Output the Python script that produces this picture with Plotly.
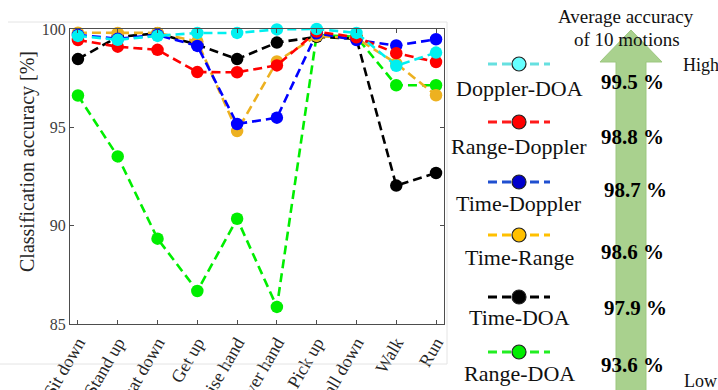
import plotly.graph_objects as go

W, H = 718, 390

motions = ["Sit down", "Stand up", "Squat down", "Get up", "Raise hand",
           "Lower hand", "Pick up", "Fall down", "Walk", "Run"]

doppler_doa = [99.65, 99.45, 99.65, 99.8, 99.8, 99.98, 100.0, 99.8, 98.13, 98.8]
range_doppler = [99.44, 99.1, 98.94, 97.81, 97.8, 98.15, 99.87, 99.58, 98.77, 98.32]
time_doppler = [99.7, 99.5, 99.7, 99.14, 95.17, 95.49, 99.78, 99.44, 99.16, 99.48]
time_range = [99.81, 99.8, 99.8, 99.36, 94.81, 98.35, 99.65, 99.53, 98.25, 96.63]
time_doa = [98.47, 99.6, 99.78, 99.2, 98.47, 99.31, 99.6, 99.5, 92.04, 92.68]
range_doa = [96.62, 93.52, 89.34, 86.68, 90.35, 85.87, 99.7, 99.6, 97.14, 97.14]

series_names = ["Doppler-DOA", "Range-Doppler", "Time-Doppler", "Time-Range", "Time-DOA", "Range-DOA"]
series_values = [doppler_doa, range_doppler, time_doppler, time_range, time_doa, range_doa]
series_colors = ["#00f0f0", "#ff0000", "#0000ff", "#edb120", "#000000", "#00ee00"]
legend_line_colors = ["#66e0e0", "#ff1a1a", "#1f4fd0", "#ffc000", "#000000", "#22ee22"]
legend_fill_colors = ["#66ffff", "#ff0000", "#0000cc", "#ffc000", "#000000", "#00ee00"]
avg_acc = [99.5, 98.8, 98.7, 98.6, 97.9, 93.6]

y_ticks = [85, 90, 95, 100]

SERIF = "Liberation Serif, Times New Roman, serif"


def px(x):
    return x / W


def py(y):
    return 1 - y / H


fig = go.Figure()

# draw order: bottom -> top
draw_order = [5, 4, 3, 2, 1, 0]
for i in draw_order:
    fig.add_trace(go.Scatter(
        x=motions, y=series_values[i], name=series_names[i],
        mode="lines+markers", cliponaxis=False,
        line=dict(color=series_colors[i], width=2.6, dash="9px,5px"),
        marker=dict(color=series_colors[i], size=12.5, line=dict(width=0)),
        showlegend=False,
    ))

shapes = []
annotations = []

# faint outer image border
for (x0, y0, x1, y1) in [(8, 22, 447, 22), (447, 22, 447, 364), (0, 364, 447, 364)]:
    shapes.append(dict(type="line", xref="paper", yref="paper",
                       x0=px(x0), y0=py(y0), x1=px(x1), y1=py(y1),
                       line=dict(color="#e4e4e4", width=1)))

# green arrow
pts = [(600, 62), (631, 30), (662, 62), (646, 62), (646, 395), (616, 395), (616, 62)]
path = "M " + " L ".join(f"{px(a):.5f},{py(b):.5f}" for a, b in pts) + " Z"
shapes.append(dict(type="path", xref="paper", yref="paper", path=path,
                   fillcolor="#a9d18e", line=dict(color="#9cc67f", width=1), layer="above"))

sample_y = [64, 122, 182, 235, 297, 352]
label_y = [89, 146, 203, 257, 317, 373]
pct_y = [82, 137, 190, 252, 308, 365]
pct_x = [632, 632, 635, 632, 635, 632]

for i, name in enumerate(series_names):
    yy = sample_y[i]
    shapes.append(dict(type="line", xref="paper", yref="paper",
                       x0=px(488), x1=px(550), y0=py(yy), y1=py(yy),
                       line=dict(color=legend_line_colors[i], width=3, dash="9px,5px"),
                       layer="above"))
    r = 7
    shapes.append(dict(type="circle", xref="paper", yref="paper",
                       x0=px(519 - r), x1=px(519 + r), y0=py(yy + r), y1=py(yy - r),
                       fillcolor=legend_fill_colors[i],
                       line=dict(color="#222222", width=1.2), layer="above"))
    annotations.append(dict(xref="paper", yref="paper", x=px(519), y=py(label_y[i]),
                            text=name, showarrow=False, xanchor="center", yanchor="middle",
                            font=dict(family=SERIF, size=22, color="#111111")))
    annotations.append(dict(xref="paper", yref="paper", x=px(pct_x[i]), y=py(pct_y[i]),
                            text=f"<b>{avg_acc[i]:.1f} %</b>", showarrow=False,
                            xanchor="center", yanchor="middle",
                            font=dict(family=SERIF, size=21, color="#000000")))

annotations.append(dict(xref="paper", yref="paper", x=px(626), y=py(17),
                        text="Average accuracy", showarrow=False, xanchor="center", yanchor="middle",
                        font=dict(family=SERIF, size=19, color="#111111")))
annotations.append(dict(xref="paper", yref="paper", x=px(627), y=py(40),
                        text="of 10 motions", showarrow=False, xanchor="center", yanchor="middle",
                        font=dict(family=SERIF, size=19, color="#111111")))
annotations.append(dict(xref="paper", yref="paper", x=px(681), y=py(65),
                        text="High", showarrow=False, xanchor="left", yanchor="middle",
                        font=dict(family=SERIF, size=18, color="#111111")))
annotations.append(dict(xref="paper", yref="paper", x=px(682), y=py(381),
                        text="Low", showarrow=False, xanchor="left", yanchor="middle",
                        font=dict(family=SERIF, size=18, color="#111111")))
annotations.append(dict(xref="paper", yref="paper", x=px(27), y=py(162),
                        text="Classification accuracy [%]", showarrow=False, textangle=-90,
                        xanchor="center", yanchor="middle",
                        font=dict(family=SERIF, size=20, color="#262626")))

fig.update_layout(
    width=W, height=H,
    margin=dict(l=0, r=0, t=0, b=0),
    paper_bgcolor="white", plot_bgcolor="white",
    shapes=shapes, annotations=annotations,
    showlegend=False,
    xaxis=dict(domain=[px(70), px(444)], range=[-0.2, 9.2], type="category",
               categoryorder="array", categoryarray=motions,
               showgrid=False, zeroline=False, showline=True, mirror="ticks",
               linecolor="#4d4d4d", linewidth=1.2,
               ticks="inside", ticklen=4, tickcolor="#4d4d4d",
               tickangle=-60, automargin=False,
               tickfont=dict(family=SERIF, size=18, color="#262626")),
    yaxis=dict(domain=[py(324), py(29)], range=[85, 100],
               tickvals=y_ticks, ticktext=[str(v) for v in y_ticks],
               showgrid=False, zeroline=False, showline=True, mirror="ticks",
               linecolor="#4d4d4d", linewidth=1.2,
               ticks="inside", ticklen=4, tickcolor="#4d4d4d", automargin=False,
               tickfont=dict(family=SERIF, size=16, color="#404040")),
)

fig.write_html("out.html", config={"displayModeBar": False},
               post_script="document.body.style.margin='0';document.body.style.padding='0';")
